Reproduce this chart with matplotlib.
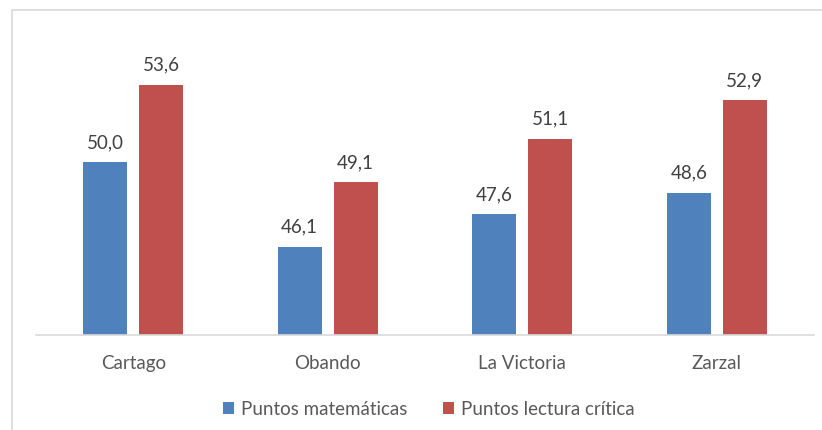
import matplotlib
matplotlib.use("Agg")
import matplotlib.pyplot as plt
from matplotlib.patches import Rectangle
import numpy as np

categories = ["Cartago", "Obando", "La Victoria", "Zarzal"]
matematicas = [50.0, 46.1, 47.6, 48.6]
lectura = [53.6, 49.1, 51.1, 52.9]
series_names = ["Puntos matemáticas", "Puntos lectura crítica"]

BLUE = "#4F81BD"
RED = "#C0504D"
TXT = "#595959"

plt.rcParams['font.family'] = ['Lato', 'DejaVu Sans']

W, H = 822, 431
fig = plt.figure(figsize=(W / 100, H / 100), dpi=100)
# outer chart border
fig.patches.append(Rectangle((12 / W, -0.1), 2, 1 - 10.5 / H + 0.1, transform=fig.transFigure,
                             fill=False, edgecolor="#D9D9D9", linewidth=1.2))

ax = fig.add_axes([36 / W, (H - 336) / H, (814 - 36) / W, (336 - 77) / H])
x = np.arange(len(categories))
bw = 0.226
off = 0.144
b1 = ax.bar(x - off, matematicas, bw, color=BLUE, label=series_names[0])
b2 = ax.bar(x + off, lectura, bw, color=RED, label=series_names[1])
ax.set_ylim(42, 54)
ax.set_xlim(-0.5, len(categories) - 0.5)

for bars, vals in ((b1, matematicas), (b2, lectura)):
    for r, v in zip(bars, vals):
        ax.annotate(f"{v:.1f}".replace(".", ","), (r.get_x() + r.get_width() / 2, v),
                    xytext=(0, 8.5), textcoords="offset points", ha="center", va="bottom",
                    fontsize=13.5, color="#404040")

for s in ["top", "right", "left"]:
    ax.spines[s].set_visible(False)
ax.spines["bottom"].set_color("#D9D9D9")
ax.spines["bottom"].set_linewidth(1.2)
ax.set_yticks([])
ax.set_xticks(x)
ax.set_xticklabels(categories, fontsize=13.5, color=TXT)
ax.tick_params(axis="x", length=0, pad=14)

leg = fig.legend(handles=[b1, b2], labels=series_names, loc="center", bbox_to_anchor=(429 / W, 1 - 410 / H),
                 ncol=2, frameon=False, fontsize=13.5, handlelength=0.55, handleheight=0.55,
                 handletextpad=0.4, columnspacing=1.9)
for t in leg.get_texts():
    t.set_color(TXT)

fig.savefig("out.png", dpi=100)
